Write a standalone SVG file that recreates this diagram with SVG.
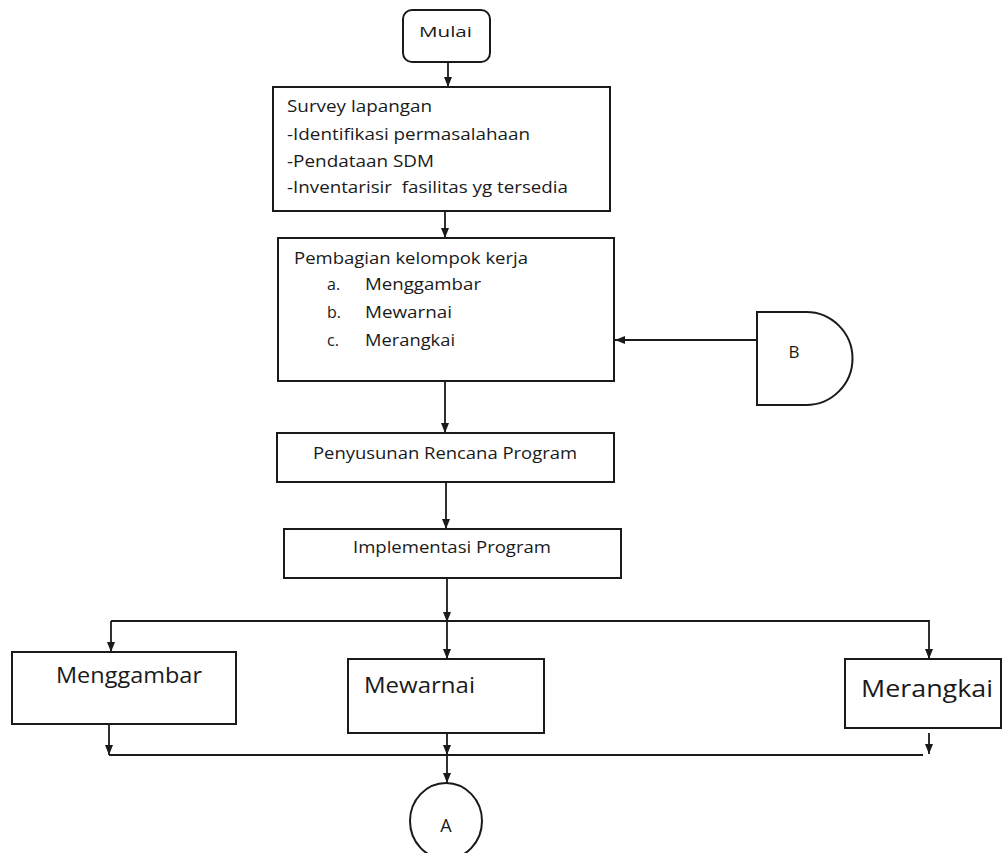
<svg xmlns="http://www.w3.org/2000/svg" width="1002" height="853" viewBox="0 0 1002 853">
<style>
.box{fill:#fff;stroke:#1a1a1a;stroke-width:2}
.ln{fill:none;stroke:#1a1a1a;stroke-width:1.8}
.arr{fill:none;stroke:#1a1a1a;stroke-width:1.8;marker-end:url(#ah)}
text{font-family:"Open Sans","Liberation Sans",sans-serif;fill:#1a1a1a}
.t16{font-size:16px}
.t15{font-size:15px}
</style>
<defs>
<marker id="ah" markerUnits="userSpaceOnUse" markerWidth="10" markerHeight="10" viewBox="0 0 10 10" refX="10" refY="5" orient="auto">
<path d="M0,1 L10,5 L0,9 Z" fill="#1a1a1a"/>
</marker>
</defs>
<rect width="1002" height="853" fill="#fff"/>
<g id="connectors">
<line class="arr" x1="448" y1="62" x2="448" y2="87"/>
<line class="arr" x1="445" y1="211" x2="445" y2="238"/>
<line class="arr" x1="757" y1="340" x2="615" y2="340"/>
<line class="arr" x1="445" y1="381" x2="445" y2="433"/>
<line class="arr" x1="446" y1="482" x2="446" y2="529"/>
<line class="arr" x1="447" y1="578" x2="447" y2="622"/>
<line class="ln" x1="111" y1="621" x2="929" y2="621"/>
<line class="arr" x1="111" y1="621" x2="111" y2="652"/>
<line class="arr" x1="447" y1="621" x2="447" y2="659"/>
<line class="arr" x1="929" y1="620" x2="929" y2="659"/>
<line class="arr" x1="109" y1="724" x2="109" y2="755"/>
<line class="arr" x1="447" y1="733" x2="447" y2="755"/>
<line class="arr" x1="929" y1="733" x2="929" y2="754"/>
<line class="ln" x1="109" y1="755" x2="923" y2="755"/>
<line class="arr" x1="447" y1="755" x2="447" y2="783"/>
</g>
<g id="mulai">
<rect class="box" x="403" y="10" width="87" height="52" rx="9"/>
<text class="t15" x="419" y="37" textLength="53" lengthAdjust="spacingAndGlyphs">Mulai</text>
</g>
<g id="survey">
<rect class="box" x="273" y="87" width="337" height="124"/>
<text class="t16" x="287" y="112" textLength="145" lengthAdjust="spacingAndGlyphs">Survey lapangan</text>
<text class="t16" x="287" y="140" textLength="243" lengthAdjust="spacingAndGlyphs">-Identifikasi permasalahaan</text>
<text class="t16" x="287" y="167" textLength="147" lengthAdjust="spacingAndGlyphs">-Pendataan SDM</text>
<text class="t16" x="287" y="193" textLength="281" lengthAdjust="spacingAndGlyphs" xml:space="preserve">-Inventarisir  fasilitas yg tersedia</text>
</g>
<g id="pembagian">
<rect class="box" x="278" y="238" width="336" height="143"/>
<text class="t16" x="294" y="264" textLength="234" lengthAdjust="spacingAndGlyphs">Pembagian kelompok kerja</text>
<text class="t16" x="327" y="290">a.</text>
<text class="t16" x="365" y="290" textLength="116" lengthAdjust="spacingAndGlyphs">Menggambar</text>
<text class="t16" x="327" y="318">b.</text>
<text class="t16" x="365" y="318" textLength="87" lengthAdjust="spacingAndGlyphs">Mewarnai</text>
<text class="t16" x="327" y="346">c.</text>
<text class="t16" x="365" y="346" textLength="90" lengthAdjust="spacingAndGlyphs">Merangkai</text>
</g>
<g id="connectorB">
<path class="box" d="M757,312 L806,312 A46.5,46.5 0 0 1 806,405 L757,405 Z"/>
<text x="794" y="358" font-size="17" text-anchor="middle">B</text>
</g>
<g id="penyusunan">
<rect class="box" x="277" y="433" width="337" height="49"/>
<text class="t16" x="313" y="459" textLength="264" lengthAdjust="spacingAndGlyphs">Penyusunan Rencana Program</text>
</g>
<g id="implementasi">
<rect class="box" x="284" y="529" width="337" height="49"/>
<text class="t16" x="353" y="553" textLength="198" lengthAdjust="spacingAndGlyphs">Implementasi Program</text>
</g>
<g id="menggambar">
<rect class="box" x="12" y="652" width="224" height="72"/>
<text x="56" y="683" font-size="21" textLength="146" lengthAdjust="spacingAndGlyphs">Menggambar</text>
</g>
<g id="mewarnai">
<rect class="box" x="348" y="659" width="196" height="74"/>
<text x="364" y="693" font-size="21" textLength="111" lengthAdjust="spacingAndGlyphs">Mewarnai</text>
</g>
<g id="merangkai">
<rect class="box" x="845" y="659" width="156" height="69"/>
<text x="861" y="697" font-size="24" textLength="132" lengthAdjust="spacingAndGlyphs">Merangkai</text>
</g>
<g id="connectorA">
<ellipse class="box" cx="446" cy="821" rx="36" ry="38"/>
<text x="446" y="832" font-size="18" text-anchor="middle">A</text>
</g>
</svg>
